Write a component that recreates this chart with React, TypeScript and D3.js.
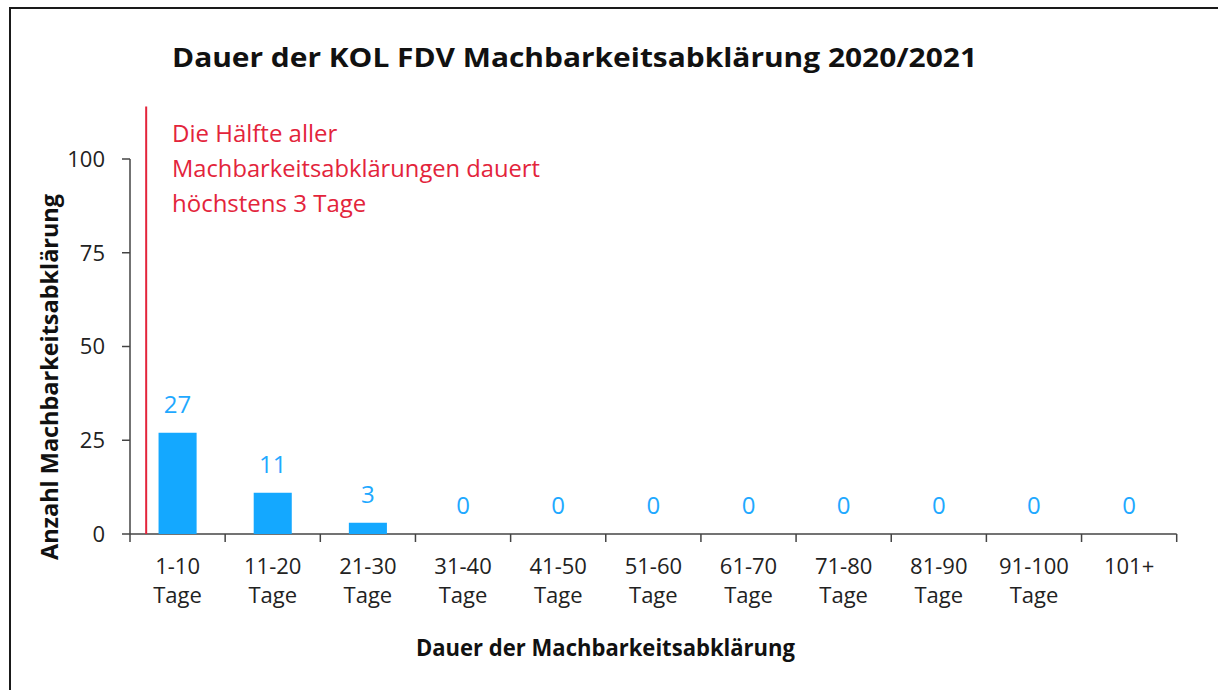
import React from "react";
import * as d3 from "d3";

const categories = ["1-10", "11-20", "21-30", "31-40", "41-50", "51-60", "61-70", "71-80", "81-90", "91-100", "101+"];
const categorySub = ["Tage", "Tage", "Tage", "Tage", "Tage", "Tage", "Tage", "Tage", "Tage", "Tage", ""];
const counts = [27, 11, 3, 0, 0, 0, 0, 0, 0, 0, 0];
const yTicks = [0, 25, 50, 75, 100];
const medianMarkerDays = 1.7; // position of the red marker within the 1-10 day bin scale
const markerTop = 114;
const title = "Dauer der KOL FDV Machbarkeitsabklärung 2020/2021";
const annotation = ["Die Hälfte aller", "Machbarkeitsabklärungen dauert", "höchstens 3 Tage"];
const yTitle = "Anzahl Machbarkeitsabklärung";
const xTitle = "Dauer der Machbarkeitsabklärung";

const W = 1218, H = 690;
const left = 130, right = 1176.7, top = 159, bottom = 534;
const FONT = "'Open Sans', 'Noto Sans', sans-serif";
const BLUE = "#14a8ff";
const RED = "#e3243b";
const AXIS = "#444";

export default function App() {
  const x = d3.scaleBand<string>().domain(categories).range([left, right]).padding(0);
  const y = d3.scaleLinear().domain([0, 100]).range([bottom, top]);
  const bw = x.bandwidth();
  const barW = bw * 0.4;
  const days = d3.scaleLinear().domain([0, 10]).range([left, left + bw]);
  const boundaries = categories.map((c) => x(c) as number).concat([right]);

  return (
    <svg width={W} height={H} style={{ position: "absolute", left: 0, top: 0, background: "#fff" }}>
      <path d={`M10,${H + 10} V8 H${W + 10}`} fill="none" stroke="#1a1a1a" strokeWidth={2} />
      <text x={172} y={67} fontFamily={FONT} fontWeight={700} fontSize={27} fill="#111" textLength={805} lengthAdjust="spacingAndGlyphs">
        {title}
      </text>

      {/* y axis */}
      <line x1={left} x2={left} y1={y(0)} y2={y(100)} stroke={AXIS} strokeWidth={1.5} />
      {yTicks.map((t) => (
        <g key={t}>
          <line x1={left - 8} x2={left} y1={y(t)} y2={y(t)} stroke={AXIS} strokeWidth={1.5} />
          <text x={105} y={y(t)} dy="0.36em" textAnchor="end" fontFamily={FONT} fontSize={22} fill="#222">
            {t}
          </text>
        </g>
      ))}

      {/* x axis */}
      <line x1={left} x2={right} y1={y(0)} y2={y(0)} stroke={AXIS} strokeWidth={1.5} />
      {boundaries.map((b, i) => (
        <line key={i} x1={b} x2={b} y1={y(0)} y2={y(0) + 8} stroke={AXIS} strokeWidth={1.5} />
      ))}
      {categories.map((c, i) => (
        <g key={c}>
          <text x={(x(c) as number) + bw / 2} y={574} textAnchor="middle" fontFamily={FONT} fontSize={22} fill="#222">
            {c}
          </text>
          {categorySub[i] && (
            <text x={(x(c) as number) + bw / 2} y={603} textAnchor="middle" fontFamily={FONT} fontSize={22} fill="#222">
              {categorySub[i]}
            </text>
          )}
        </g>
      ))}

      {/* bars */}
      {categories.map((c, i) => (
        <g key={"b" + c}>
          {counts[i] > 0 && (
            <rect x={(x(c) as number) + (bw - barW) / 2} y={y(counts[i])} width={barW} height={y(0) - y(counts[i])} fill={BLUE} />
          )}
          <text x={(x(c) as number) + bw / 2} y={y(counts[i]) - 20} textAnchor="middle" fontFamily={FONT} fontSize={24} fill="#1fa9ff">
            {counts[i]}
          </text>
        </g>
      ))}

      {/* median marker */}
      <line x1={days(medianMarkerDays)} x2={days(medianMarkerDays)} y1={y(0)} y2={y(markerTop)} stroke={RED} strokeWidth={2} />
      {annotation.map((l, i) => (
        <text key={i} x={172} y={142 + i * 35} fontFamily={FONT} fontSize={24} fill={RED}
          textLength={i === 1 ? 368 : undefined} lengthAdjust="spacingAndGlyphs">
          {l}
        </text>
      ))}

      {/* axis titles */}
      <text transform={`translate(58,377) rotate(-90)`} textAnchor="middle" fontFamily={FONT} fontWeight={700} fontSize={23} fill="#111"
        textLength={366} lengthAdjust="spacingAndGlyphs">
        {yTitle}
      </text>
      <text x={(416 + 795) / 2} y={656} textAnchor="middle" fontFamily={FONT} fontWeight={700} fontSize={24} fill="#111"
        textLength={379} lengthAdjust="spacingAndGlyphs">
        {xTitle}
      </text>
    </svg>
  );
}
